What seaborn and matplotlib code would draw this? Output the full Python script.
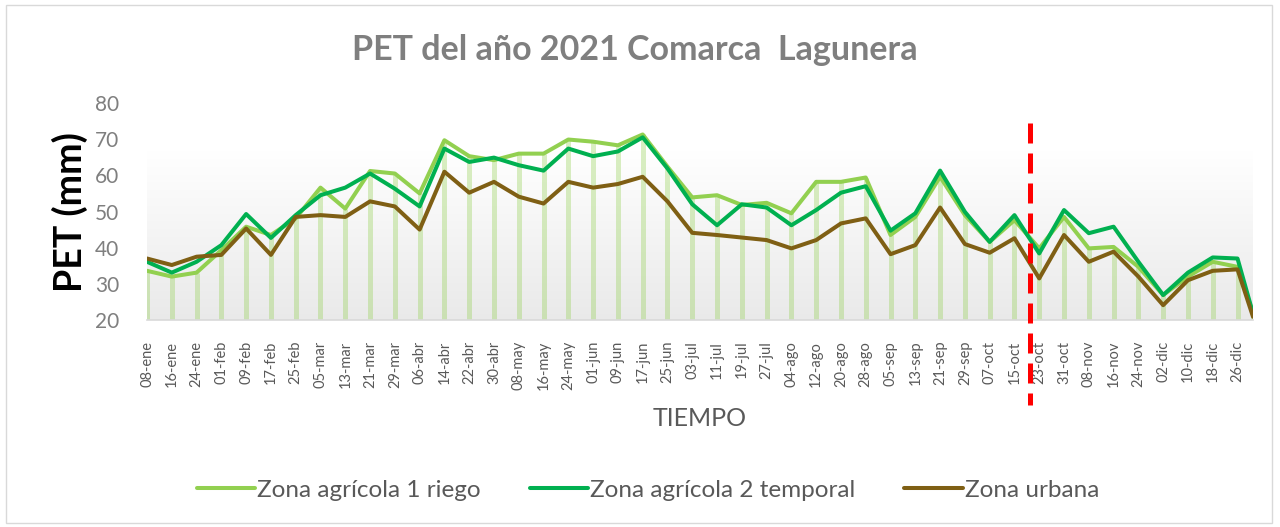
import numpy as np
import pandas as pd
import matplotlib.pyplot as plt
import matplotlib.transforms as mtransforms
from matplotlib.patches import Rectangle
import seaborn as sns

# fechas (cada 8 dias + ultimo dato al 31-dic)
fechas = ['08-ene', '16-ene', '24-ene', '01-feb', '09-feb', '17-feb', '25-feb',
          '05-mar', '13-mar', '21-mar', '29-mar', '06-abr', '14-abr', '22-abr',
          '30-abr', '08-may', '16-may', '24-may', '01-jun', '09-jun', '17-jun',
          '25-jun', '03-jul', '11-jul', '19-jul', '27-jul', '04-ago', '12-ago',
          '20-ago', '28-ago', '05-sep', '13-sep', '21-sep', '29-sep', '07-oct',
          '15-oct', '23-oct', '31-oct', '08-nov', '16-nov', '24-nov', '02-dic',
          '10-dic', '18-dic', '26-dic', '31-dic']

riego = [33.6, 32.0, 33.1, 39.3, 45.8, 43.5, 48.1, 56.6, 50.8, 61.2, 60.5, 55.0,
         69.7, 65.3, 64.2, 66.0, 66.0, 69.9, 69.3, 68.3, 71.3, 62.4, 53.9, 54.5,
         51.8, 52.4, 49.5, 58.2, 58.2, 59.4, 43.5, 48.5, 59.6, 49.0, 41.6, 47.6,
         39.8, 48.5, 39.8, 40.2, 34.7, 26.9, 32.0, 36.1, 34.7, 21.8]

temporal = [36.1, 33.1, 36.1, 40.7, 49.3, 42.7, 49.0, 54.5, 56.6, 60.5, 56.3, 51.4,
            67.4, 63.7, 64.9, 62.8, 61.3, 67.4, 65.3, 66.6, 70.5, 61.9, 52.0, 46.2,
            52.0, 51.1, 46.2, 50.4, 55.2, 57.0, 44.7, 49.5, 61.3, 49.9, 41.6, 49.0,
            38.4, 50.4, 44.0, 45.8, 36.1, 26.9, 33.1, 37.3, 37.0, 21.8]

urbana = [37.0, 35.2, 37.5, 38.0, 45.3, 38.0, 48.5, 49.0, 48.5, 52.8, 51.4, 45.0,
          61.0, 55.2, 58.2, 54.1, 52.2, 58.2, 56.6, 57.6, 59.6, 52.8, 44.1, 43.5,
          42.8, 42.1, 39.8, 42.1, 46.7, 48.1, 38.2, 40.7, 51.1, 41.0, 38.6, 42.6,
          31.5, 43.5, 36.1, 38.9, 32.0, 24.1, 31.0, 33.6, 34.0, 20.9]

series = ['Zona agrícola 1 riego', 'Zona agrícola 2 temporal', 'Zona urbana']
colores = ['#92D050', '#00B050', '#7F5F14']
fecha_corte = '2021-10-20'

meses = {'ene': 1, 'feb': 2, 'mar': 3, 'abr': 4, 'may': 5, 'jun': 6,
         'jul': 7, 'ago': 8, 'sep': 9, 'oct': 10, 'nov': 11, 'dic': 12}
x = pd.to_datetime(['2021-%02d-%s' % (meses[f[3:]], f[:2]) for f in fechas])

df = pd.DataFrame({'fecha': x, series[0]: riego, series[1]: temporal, series[2]: urbana})
df = df.melt(id_vars='fecha', var_name='zona', value_name='PET')

sns.set_style('white')
plt.rcParams['font.family'] = ['Lato', 'DejaVu Sans']

fig = plt.figure(figsize=(12.8, 5.27), dpi=100)
ax = fig.add_axes([147 / 1280, 1 - 320 / 527, (1253 - 147) / 1280, (320 - 103) / 527])

# fondo degradado
grad = np.linspace(0.91, 1.0, 256).reshape(-1, 1)
grad = np.clip((grad - 0.91) / 0.07, 0, 1) * (1 - 0.915) + 0.915
ax.imshow(np.dstack([grad, grad, grad]), extent=[0, 1, 0, 1], transform=ax.transAxes,
          aspect='auto', origin='lower', zorder=0)

# lineas de caida
ax.vlines(x, 20, riego, colors='#92D050', alpha=0.35, lw=3.6, zorder=1)

sns.lineplot(data=df, x='fecha', y='PET', hue='zona', palette=colores,
             lw=2.9, ax=ax, zorder=3, legend=True)

ax.set_xlim(x[0], x[-1])
ax.set_ylim(20, 80)
ax.set_yticks(range(20, 81, 10))
ax.set_xticks(x[:-1])
ax.set_xticklabels(fechas[:-1], rotation=90, fontsize=10.5, color='#595959')
ax.tick_params(axis='y', labelsize=15, labelcolor='#7f7f7f', length=0, pad=20)
ax.tick_params(axis='x', length=0, pad=15)
ax.set_xlabel('TIEMPO', fontsize=18, color='#595959', labelpad=12)
ax.set_ylabel('')
for s in ['top', 'right', 'left']:
    ax.spines[s].set_visible(False)
ax.spines['bottom'].set_color('#d9d9d9')
ax.spines['bottom'].set_linewidth(1.2)

# linea roja discontinua
trans = mtransforms.blended_transform_factory(ax.transData, ax.transAxes)
xc = pd.Timestamp(fecha_corte)
ax.plot([xc, xc], [0.908, -0.392], transform=trans, color='red', lw=3.6,
        dashes=(4, 2), clip_on=False, zorder=5)

fig.text(70 / 1280, 1 - 212 / 527, 'PET (mm)', rotation=90, fontsize=27,
         fontweight='bold', color='black', ha='center', va='center')
fig.text(635 / 1280, 1 - 50 / 527, 'PET del año 2021 Comarca  Lagunera', fontsize=24.5,
         fontweight='bold', color='#7f7f7f', ha='center', va='center')

handles, labels = ax.get_legend_handles_labels()
ax.legend(handles, labels, loc='center', bbox_to_anchor=(648 / 1280, 1 - 490 / 527),
          bbox_transform=fig.transFigure, ncol=3, frameon=False, fontsize=17.5,
          handlelength=2.4, handletextpad=0.1, columnspacing=2.0,
          labelcolor='#595959')

fig.add_artist(Rectangle((6 / 1280, 4 / 527), 1266 / 1280, 518 / 527,
                         transform=fig.transFigure, fill=False,
                         edgecolor='#d9d9d9', lw=1))

fig.savefig('out.png', dpi=100, facecolor='white')
